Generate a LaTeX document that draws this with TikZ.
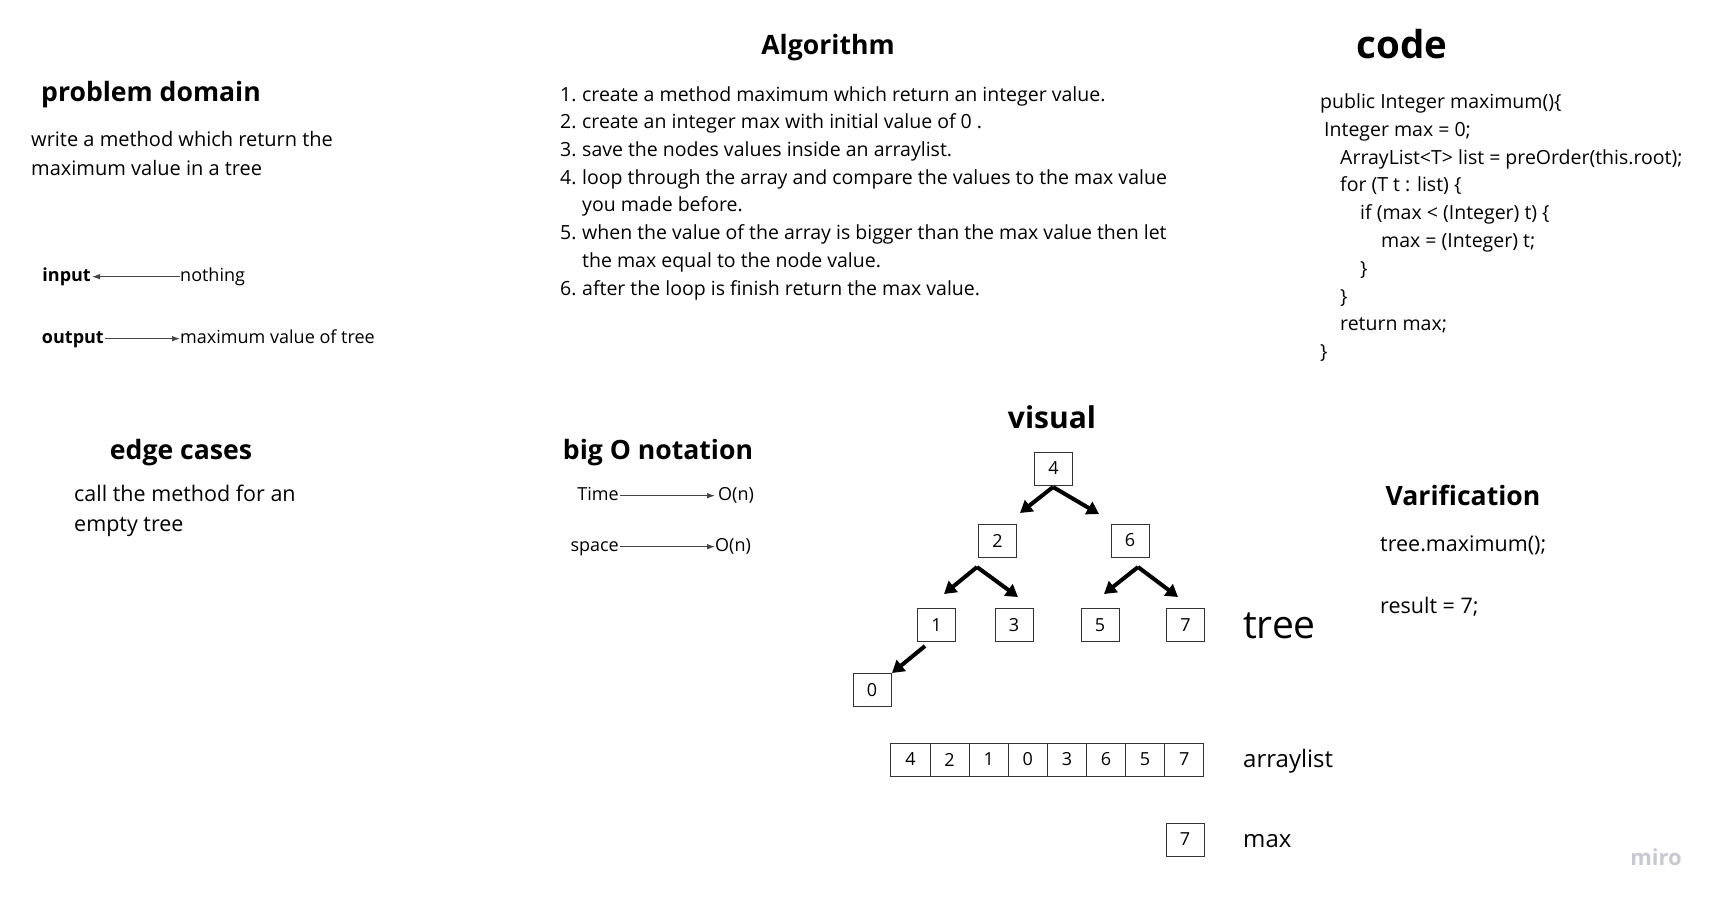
\documentclass[tikz,border=0pt]{standalone}
\usepackage{fontspec}
\setmainfont{Open Sans}
\usetikzlibrary{arrows.meta,positioning}
\definecolor{boxline}{HTML}{333333}
\definecolor{thinarrow}{HTML}{444444}
\definecolor{logo}{HTML}{C9C9D3}
\begin{document}
\begin{tikzpicture}[x=1pt,y=-1pt,
  title/.style={font=\fontsize{26.6}{30}\selectfont\bfseries, inner sep=0, anchor=mid},
  bigtitle/.style={font=\fontsize{38.5}{44}\selectfont\bfseries, inner sep=0, anchor=mid},
  body/.style={font=\fontsize{20}{24}\selectfont, anchor=mid west, inner sep=0},
  bodyl/.style={font=\fontsize{21.5}{26}\selectfont, anchor=mid west, inner sep=0},
  alg/.style={font=\fontsize{19.5}{23}\selectfont, anchor=mid west, inner sep=0},
  small/.style={font=\fontsize{18}{22}\selectfont, anchor=mid west, inner sep=0},
  smallr/.style={font=\fontsize{18}{22}\selectfont, anchor=mid east, inner sep=0},
  smallb/.style={font=\fontsize{18}{22}\selectfont\bfseries, anchor=mid east, inner sep=0},
  treebox/.style={draw=boxline, line width=1pt, minimum width=38pt, minimum height=33pt, inner sep=0, font=\fontsize{18}{22}\selectfont},
  cell/.style={draw=boxline, line width=1pt, outer sep=0pt, minimum width=39.1pt, minimum height=33pt, inner sep=0, font=\fontsize{18}{22}\selectfont},
  thin/.style={draw=thinarrow, line width=0.9pt, -{Latex[length=8pt,width=5.5pt]}},
  thick/.style={draw=black, line width=4pt, -{Triangle[length=12pt,width=14pt]}},
]
\useasboundingbox[fill=white] (0,0) rectangle (1723,906);

% ---------- problem domain ----------
\node[title] (pdt) at (151,99) {problem domain};
\node[body] (pd1) at (31,144) {write a method which return the};
\node[body] (pd2) at (31,173) {maximum value in a tree};

\node[smallb] (in) at (91,279) {input};
\node[small] (nothing) at (180,279) {nothing};
\draw[thin] ([yshift=5pt]nothing.base west) -- ([xshift=1pt,yshift=5pt]in.base east);
\node[smallb] (out) at (104,341) {output};
\node[small] (maxv) at (180,341) {maximum value of tree};
\draw[thin] ([xshift=1pt,yshift=5pt]out.base east) -- ([yshift=5pt]maxv.base west);

% ---------- algorithm ----------
\node[title] (algt) at (828,52) {Algorithm};
\node[alg] (n1) at (560,99) {1.};
\node[alg] (l1) at (582,99) {create a method maximum which return an integer value.};
\node[alg] (n2) at (560,126) {2.};
\node[alg] (l2) at (582,126) {create an integer max with initial value of 0 .};
\node[alg] (n3) at (560,154) {3.};
\node[alg] (l3) at (582,154) {save the nodes values inside an arraylist.};
\node[alg] (n4) at (560,182) {4.};
\node[alg] (l4) at (582,182) {loop through the array and compare the values to the max value};
\node[alg] (l4b) at (582,209) {you made before.};
\node[alg] (n5) at (560,237) {5.};
\node[alg] (l5) at (582,237) {when the value of the array is bigger than the max value then let};
\node[alg] (l5b) at (582,265) {the max equal to the node value.};
\node[alg] (n6) at (560,293) {6.};
\node[alg] (l6) at (582,293) {after the loop is finish return the max value.};

% ---------- code ----------
\node[bigtitle] (codet) at (1402,56) {code};
\node[alg] (c1) at (1320,106) {public Integer maximum()\{};
\node[alg] (c2) at (1324,134) {Integer max = 0;};
\node[alg] (c3) at (1340,162) {ArrayList<T> list = preOrder(this.root);};
\node[alg] (c4) at (1340,189) {for (T t : list) \{};
\node[alg] (c5) at (1360,217) {if (max < (Integer) t) \{};
\node[alg] (c6) at (1381,245) {max = (Integer) t;};
\node[alg] (c7) at (1360,273) {\}};
\node[alg] (c8) at (1340,301) {\}};
\node[alg] (c9) at (1340,328) {return max;};
\node[alg] (c10) at (1320,356) {\}};

% ---------- edge cases ----------
\node[title] (edt) at (181,457) {edge cases};
\node[bodyl] (ed1) at (74,499) {call the method for an};
\node[bodyl] (ed2) at (74,529) {empty tree};

% ---------- big O ----------
\node[title] (bigt) at (658,457) {big O notation};
\node[smallr] (time) at (619,498) {Time};
\node[small] (ot) at (718,498) {O(n)};
\draw[thin] ([xshift=1pt,yshift=5pt]time.base east) -- ([xshift=-3pt,yshift=5pt]ot.base west);
\node[smallr] (space) at (619,549) {space};
\node[small] (os) at (715,549) {O(n)};
\draw[thin] ([xshift=1pt,yshift=5pt]space.base east) -- ([yshift=5pt]os.base west);

% ---------- visual ----------
\node[font=\fontsize{30}{36}\selectfont\bfseries, inner sep=0, anchor=mid] (vist) at (1052,426) {visual};
\node[treebox] (t4) at (1053.5,468.5) {4};
\node[treebox] (t2) at (997.5,540.5) {2};
\node[treebox] (t6) at (1130,540.5) {6};
\node[treebox] (t1) at (936.5,625) {1};
\node[treebox] (t3) at (1014,625) {3};
\node[treebox] (t5) at (1100,625) {5};
\node[treebox] (t7) at (1185.5,625) {7};
\node[treebox] (t0) at (872,690) {0};

\coordinate (s4) at (1053,487);
\coordinate (e42) at (1020,513);
\coordinate (e46) at (1099,514);
\coordinate (s2) at (977,567);
\coordinate (e21) at (944,594);
\coordinate (e23) at (1018,597);
\coordinate (s6) at (1138,567);
\coordinate (e65) at (1104,594);
\coordinate (e67) at (1178,597);
\coordinate (s1) at (925,646);
\coordinate (e10) at (892,673);
\draw[thick] (s4) -- (e42);
\draw[thick] (s4) -- (e46);
\draw[thick] (s2) -- (e21);
\draw[thick] (s2) -- (e23);
\draw[thick] (s6) -- (e65);
\draw[thick] (s6) -- (e67);
\draw[thick] (s1) -- (e10);

\node[font=\fontsize{39}{46}\selectfont, anchor=mid west, inner sep=0] (treel) at (1243,636) {tree};

\node[cell] (a1) at (910.5,759.5) {4};
\node[cell, right=0pt of a1] (a2) {2};
\node[cell, right=0pt of a2] (a3) {1};
\node[cell, right=0pt of a3] (a4) {0};
\node[cell, right=0pt of a4] (a5) {3};
\node[cell, right=0pt of a5] (a6) {6};
\node[cell, right=0pt of a6] (a7) {5};
\node[cell, right=0pt of a7] (a8) {7};
\node[font=\fontsize{24}{28}\selectfont, anchor=mid west, inner sep=0] (arrl) at (1243,765) {arraylist};

\node[treebox] (mx) at (1185,839.5) {7};
\node[font=\fontsize{24}{28}\selectfont, anchor=mid west, inner sep=0] (maxl) at (1243,845) {max};

% ---------- verification ----------
\node[title] (vert) at (1463,503) {Varification};
\node[bodyl] (v1) at (1380,549) {tree.maximum();};
\node[bodyl] (v2) at (1380,611) {result = 7;};

% ---------- logo ----------
\node[font=\fontsize{22}{26}\selectfont\bfseries, text=logo, anchor=mid, inner sep=0] (miro) at (1656,863) {miro};
\end{tikzpicture}
\end{document}
